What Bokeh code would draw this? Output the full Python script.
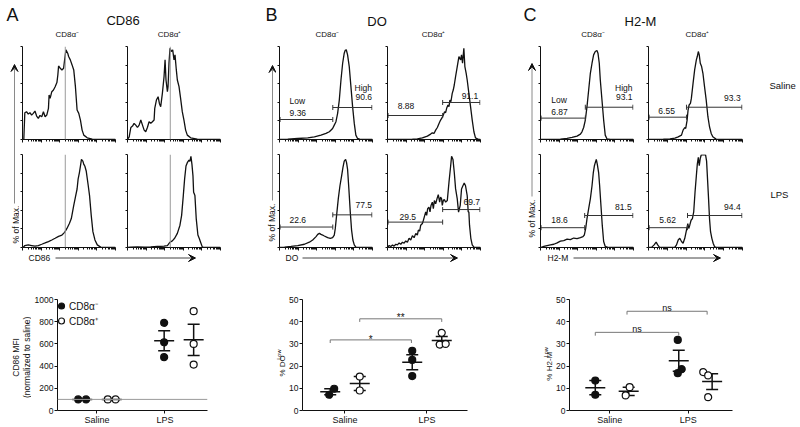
import numpy as np
from bokeh.plotting import figure
from bokeh.layouts import row, column
from bokeh.models import (Range1d, FixedTicker, Label, Arrow, VeeHead, TeeHead, Whisker,
                          ColumnDataSource, Legend, LegendItem, Span, CustomJSTickFormatter)
from bokeh.embed import file_html
from bokeh.resources import INLINE

FONT = "Liberation Sans"
INK = "#111111"

# ------------------------------------------------------------------ data
markers = ["CD86", "DO", "H2-M"]
subsets = ["CD8α⁻", "CD8α⁺"]
conditions = ["Saline", "LPS"]

# histogram traces: x = position on the log fluorescence axis (% of axis), y = % of max
cd86_saline_neg_x = [1.4, 2.5, 4.3, 6.2, 8.0, 9.8, 11.6, 13.4, 15.2, 17.0, 18.8, 20.7, 22.5, 24.3, 26.1, 27.9, 28.6, 29.7, 31.5, 33.3, 35.1, 37.0, 38.0, 38.8, 40.6, 42.4, 44.2, 45.3, 46.7, 48.6, 49.6, 51.4, 53.3, 55.1, 56.9, 58.7, 60.5, 62.3, 64.1, 65.9, 69.6, 75.0, 100]
cd86_saline_neg_y = [0, 28.8, 29.9, 27.3, 28.8, 26.3, 28.1, 30.6, 25.2, 22.7, 25.9, 24.5, 29.9, 24.5, 26.3, 33.5, 47.8, 44.2, 51.4, 53.2, 56.8, 61.2, 69.4, 79.1, 76.6, 74.8, 76.6, 85.6, 96.4, 92.8, 89.2, 85.6, 80.2, 74.8, 56.8, 31.7, 28.1, 20.9, 10.1, 4.7, 1.8, 0.4, 0]
cd86_saline_pos_x = [0, 1.8, 3.6, 5.4, 7.1, 8.9, 10.7, 12.5, 14.3, 16.1, 17.9, 19.6, 21.4, 23.2, 25.0, 26.8, 28.6, 29.3, 31.1, 32.9, 34.3, 35.7, 37.5, 39.3, 40.4, 41.4, 42.9, 43.6, 44.6, 45.7, 47.1, 48.6, 50.0, 51.1, 52.5, 53.6, 55.4, 57.1, 58.9, 60.7, 62.5, 64.3, 67.9, 75.0, 100]
cd86_saline_pos_y = [0, 2.9, 12.9, 14.4, 17.3, 15.5, 12.9, 15.5, 20.9, 15.5, 10.1, 8.3, 12.9, 19.1, 17.3, 19.1, 20.9, 33.5, 42.4, 46.0, 38.8, 35.3, 49.6, 67.6, 85.6, 64.0, 51.4, 56.8, 82.0, 98.2, 94.6, 96.4, 85.6, 91.0, 74.8, 64.0, 56.8, 44.2, 29.9, 20.9, 10.1, 4.7, 1.8, 0.4, 0]
cd86_lps_neg_x = [0.7, 2.5, 6.2, 9.8, 13.4, 17.0, 20.7, 24.3, 27.9, 31.5, 35.1, 38.8, 42.4, 45.3, 47.8, 50.4, 52.5, 55.1, 56.9, 58.7, 59.8, 61.2, 62.3, 63.4, 64.9, 65.9, 67.0, 68.5, 70.7, 72.1, 73.9, 75.7, 77.9, 80.4, 84.1, 100]
cd86_lps_neg_y = [0, 2.1, 2.8, 2.1, 1.4, 2.1, 3.5, 4.9, 6.4, 8.1, 9.9, 12.0, 13.4, 16.3, 20.5, 25.8, 31.1, 45.2, 54.1, 62.9, 73.5, 80.6, 87.6, 94.7, 92.9, 89.4, 87.6, 82.3, 66.4, 55.8, 34.6, 17.0, 8.1, 2.8, 0.4, 0]
cd86_lps_pos_x = [0, 3.6, 10.7, 17.9, 25.0, 32.1, 39.3, 42.9, 45.7, 48.2, 50.7, 53.6, 56.4, 58.2, 60.0, 61.4, 62.9, 64.3, 66.1, 67.1, 68.2, 69.3, 70.4, 71.1, 72.5, 73.9, 75.7, 77.1, 78.6, 80.4, 82.1, 100]
cd86_lps_pos_y = [0, 0.4, 0.7, 0.4, 0.7, 1.1, 1.4, 2.1, 5.7, 7.1, 9.9, 15.2, 24.0, 34.6, 55.8, 73.5, 87.6, 91.2, 94.0, 92.6, 98.0, 89.4, 77.0, 59.4, 55.8, 31.1, 13.4, 9.9, 5.7, 0.7, 0, 0]

do_saline_neg_x = [0, 8.9, 19.6, 30.4, 37.5, 44.6, 50.0, 53.6, 57.1, 58.9, 60.7, 62.5, 64.3, 66.1, 67.9, 69.6, 70.7, 71.8, 73.2, 75.0, 76.8, 78.6, 80.4, 82.1, 83.9, 87.5, 100]
do_saline_neg_y = [0, 0.4, 1.1, 1.8, 2.9, 4.7, 6.5, 8.3, 11.9, 15.5, 19.1, 28.1, 42.4, 64.0, 82.0, 92.8, 96.0, 96.5, 91.0, 78.4, 56.8, 35.3, 17.3, 4.7, 1.1, 0, 0]
do_saline_pos_x = [0, 16.1, 26.8, 32.1, 37.5, 42.9, 46.4, 48.2, 50.0, 51.8, 53.6, 55.4, 57.1, 58.9, 60.0, 61.4, 62.5, 63.6, 65.0, 66.1, 67.1, 68.2, 69.6, 70.7, 71.8, 73.2, 75.0, 76.8, 78.6, 79.6, 80.7, 82.1, 83.2, 84.6, 85.7, 87.5, 89.3, 91.1, 92.9, 94.6, 98.2, 100]
do_saline_pos_y = [0, 0, 0.4, 0.7, 1.8, 3.6, 5.8, 7.2, 6.5, 10.1, 12.9, 17.3, 20.9, 23.7, 26.3, 29.9, 28.8, 33.5, 37.1, 35.3, 42.4, 40.6, 49.6, 53.2, 58.6, 67.6, 78.4, 89.2, 85.6, 91.0, 82.0, 98.0, 78.4, 71.2, 64.0, 49.6, 35.3, 20.9, 8.3, 1.8, 0, 0]
do_lps_neg_x = [0, 5.4, 12.5, 19.6, 26.8, 32.1, 35.7, 39.3, 41.1, 42.9, 44.6, 46.4, 48.2, 51.8, 54.6, 57.1, 58.9, 60.0, 61.4, 63.2, 65.0, 66.8, 68.2, 69.6, 71.1, 72.1, 73.2, 74.6, 76.1, 77.5, 78.9, 80.4, 82.1, 87.5, 100]
do_lps_neg_y = [0, 0.4, 1.1, 2.1, 3.5, 5.7, 8.1, 11.7, 14.1, 15.2, 14.1, 13.4, 12.4, 10.6, 9.9, 10.6, 13.4, 20.5, 34.6, 52.3, 66.4, 77.0, 85.9, 92.9, 94.7, 91.2, 84.1, 62.9, 38.2, 18.7, 8.1, 2.8, 0.4, 0, 0]
do_lps_pos_x = [0, 1.8, 3.6, 5.4, 7.1, 8.9, 10.7, 12.5, 14.3, 16.1, 17.9, 19.6, 21.4, 23.2, 25.0, 26.8, 28.6, 30.4, 32.1, 33.2, 34.6, 35.7, 37.5, 38.6, 39.6, 41.1, 42.1, 43.2, 44.6, 45.7, 46.8, 48.2, 49.3, 50.4, 51.8, 53.2, 54.6, 56.1, 57.1, 58.2, 58.9, 60.0, 61.1, 62.5, 64.3, 66.1, 67.9, 68.9, 70.4, 71.8, 73.2, 75.0, 76.4, 78.2, 79.6, 81.1, 82.5, 83.9, 85.7, 86.8, 87.5, 88.2, 89.6, 91.1, 92.9, 100]
do_lps_pos_y = [0, 2.1, 1.1, 2.8, 1.4, 3.5, 2.8, 4.9, 3.5, 5.7, 4.6, 7.1, 5.7, 9.9, 8.1, 12.7, 10.6, 15.2, 13.4, 18.7, 17.7, 24.0, 25.8, 29.3, 32.9, 38.2, 34.6, 41.7, 43.5, 38.2, 45.2, 48.8, 41.7, 50.5, 47.0, 52.3, 56.9, 48.8, 54.1, 52.3, 45.2, 50.5, 51.6, 48.8, 50.5, 70.0, 87.6, 98.0, 94.7, 80.6, 63.3, 52.3, 38.0, 45.2, 62.9, 66.4, 69.3, 66.4, 55.8, 38.2, 38.2, 24.0, 9.9, 2.8, 0.4, 0]

h2m_saline_neg_x = [0, 10.7, 21.4, 28.6, 33.9, 39.3, 42.9, 44.6, 46.4, 48.2, 50.0, 51.8, 53.6, 55.4, 57.1, 58.9, 60.7, 61.8, 63.2, 64.3, 66.1, 67.9, 69.6, 71.4, 75.0, 100]
h2m_saline_neg_y = [0, 0, 0.4, 1.1, 2.2, 3.6, 5.8, 8.3, 12.9, 20.9, 35.3, 53.2, 71.2, 82.0, 91.0, 94.6, 95.7, 92.8, 82.0, 64.0, 42.4, 20.9, 4.7, 0.7, 0, 0]
h2m_saline_pos_x = [0, 15.8, 22.8, 28.1, 31.6, 35.1, 36.8, 38.6, 39.6, 41.1, 42.1, 43.2, 44.6, 45.6, 47.4, 49.1, 50.9, 51.9, 53.0, 54.0, 55.1, 56.5, 57.9, 59.6, 61.4, 63.2, 64.9, 66.7, 68.4, 71.9, 100]
h2m_saline_pos_y = [0, 0.4, 0.7, 1.4, 2.9, 4.7, 10.1, 12.9, 11.9, 20.9, 31.7, 37.1, 38.8, 44.2, 60.4, 74.8, 85.6, 89.2, 94.6, 91.0, 82.0, 78.4, 71.2, 56.8, 42.4, 24.5, 13.7, 6.5, 2.9, 0.4, 0]
h2m_lps_neg_x = [0, 3.6, 7.1, 10.7, 14.3, 17.9, 21.4, 25.0, 28.6, 32.1, 35.7, 39.3, 42.9, 45.7, 47.1, 48.6, 50.0, 51.8, 53.6, 55.4, 56.8, 57.9, 58.9, 60.0, 61.1, 62.5, 63.6, 65.0, 66.4, 67.9, 69.6, 73.2, 100]
h2m_lps_neg_y = [0, 1.1, 2.1, 2.8, 3.5, 4.9, 6.8, 7.4, 9.0, 8.5, 10.2, 9.5, 10.6, 11.7, 13.4, 20.5, 31.1, 41.7, 52.3, 66.4, 80.6, 87.6, 91.2, 94.7, 89.4, 80.6, 66.4, 45.2, 24.0, 6.4, 1.1, 0, 0]
h2m_lps_pos_x = [0, 3.5, 6.0, 8.1, 9.8, 11.6, 15.8, 22.8, 28.1, 29.8, 31.6, 33.3, 35.1, 36.8, 38.6, 40.4, 41.8, 42.8, 43.9, 45.3, 46.7, 48.1, 49.5, 50.9, 51.9, 53.0, 54.0, 55.1, 56.1, 57.5, 59.3, 60.7, 61.8, 62.8, 63.9, 64.9, 66.0, 67.4, 68.8, 70.2, 71.9, 100]
h2m_lps_pos_y = [0, 0.4, 2.8, 5.7, 2.8, 0.4, 0, 0, 0.4, 2.8, 8.1, 9.9, 6.4, 4.6, 9.9, 18.7, 25.8, 20.5, 24.0, 29.3, 31.1, 38.2, 59.4, 77.0, 89.4, 97.0, 88.0, 96.0, 99.5, 99.5, 99.5, 99.5, 92.9, 73.5, 52.3, 31.1, 17.0, 9.9, 4.6, 1.1, 0, 0]

# gate frequencies (% of cells), panels: saline neg, saline pos, LPS neg, LPS pos
do_low_pct = [9.36, 8.88, 22.6, 29.5]
do_high_pct = [90.6, 91.1, 77.5, 69.7]
h2m_low_pct = [6.87, 6.55, 18.6, 5.62]
h2m_high_pct = [93.1, 93.3, 81.5, 94.4]

# summary scatter values
cd86_mfi_saline_neg = [100, 100]
cd86_mfi_saline_pos = [100, 100]
cd86_mfi_lps_neg = [790, 615, 480]
cd86_mfi_lps_pos = [895, 600, 414]
do_low_saline_neg = [9.8, 7.1]
do_low_saline_pos = [15.3, 9.0]
do_low_lps_neg = [26.9, 22.8, 15.5]
do_low_lps_pos = [35.0, 29.7, 30.0]
h2m_low_saline_neg = [13.5, 7.1]
h2m_low_saline_pos = [10.5, 6.8]
h2m_low_lps_neg = [31.8, 18.6, 16.8]
h2m_low_lps_pos = [17.3, 15.8, 6.0]

# ------------------------------------------------------------------ layout helpers
def plain(p):
    p.xgrid.visible = False
    p.ygrid.visible = False
    p.outline_line_color = None
    p.background_fill_color = "white"
    p.border_fill_color = "white"


def lab(p, x, y, text, size="8.5px", align="left", baseline="middle", angle=0.0, color=INK):
    p.add_layout(Label(x=x, y=y, text=text, text_font=FONT, text_font_size=size,
                       text_align=align, text_baseline=baseline, angle=angle, text_color=color))


def text_fig(x0, x1, y0, y1):
    p = figure(width=x1 - x0, height=y1 - y0, x_range=Range1d(x0, x1), y_range=Range1d(y1, y0),
               x_axis_location=None, y_axis_location=None, min_border=0,
               output_backend="svg", toolbar_location=None)
    plain(p)
    return p


decade_ticks = [0, 20, 40, 60, 80, 100]
minor_ticks = [d * 20 + 20 * np.log10(k) for d in range(5) for k in range(2, 10)]


def hist_fig(xs, ys, w, bl, br, top):
    bt, bb = (5, 7) if top else (8, 4)
    p = figure(width=w, height=105, x_range=Range1d(0, 100), y_range=Range1d(0, 100),
               min_border_left=bl, min_border_right=br, min_border_top=bt, min_border_bottom=bb,
               output_backend="svg", toolbar_location=None)
    plain(p)
    xa, ya = p.xaxis[0], p.yaxis[0]
    xa.ticker = FixedTicker(ticks=decade_ticks, minor_ticks=minor_ticks)
    ya.ticker = FixedTicker(ticks=[0, 20, 40, 60, 80, 100], minor_ticks=[])
    for ax in (xa, ya):
        ax.major_label_text_font_size = "1px"
        ax.major_label_text_color = None
        ax.major_label_standoff = 0
        ax.axis_line_color = INK
        ax.major_tick_line_color = INK
        ax.minor_tick_line_color = INK
        ax.major_tick_in = 0
        ax.minor_tick_in = 0
    xa.major_tick_out = 3
    xa.minor_tick_out = 2
    ya.major_tick_out = 2
    ya.minor_tick_line_color = None
    p.line(xs, ys, line_color=INK, line_width=1.3)
    return p


def add_gates(p, split, ylow, yhigh, low_txt, high_txt, low_pos, high_pos, words=False, word_pos=None):
    cap = 2.7
    gc = "#333333"
    p.segment(x0=[0.6, split], y0=[ylow, yhigh], x1=[split, 99.4], y1=[ylow, yhigh],
              line_color=gc, line_width=1)
    cx = [0.6, split, split, 99.4]
    cy = [ylow, ylow, yhigh, yhigh]
    p.segment(x0=cx, y0=[c - cap for c in cy], x1=cx, y1=[c + cap for c in cy],
              line_color=gc, line_width=1)
    lab(p, low_pos[0], low_pos[1], low_txt)
    lab(p, high_pos[0], high_pos[1], high_txt, align="right")
    if words:
        lab(p, word_pos[0][0], word_pos[0][1], "Low")
        lab(p, word_pos[1][0], word_pos[1][1], "High", align="right")


# ------------------------------------------------------------------ histograms
hist_cols = {
    # marker: [(fig width, border left, border right) for CD8a- column, CD8a+ column]
    "CD86": [(98, 3, 2), (109, 10, 6)],
    "DO": [(102, 3, 6), (108, 9, 6)],
    "H2-M": [(103, 3, 7), (110, 8, 8)],
}
traces = {
    "CD86": [(cd86_saline_neg_x, cd86_saline_neg_y), (cd86_saline_pos_x, cd86_saline_pos_y),
             (cd86_lps_neg_x, cd86_lps_neg_y), (cd86_lps_pos_x, cd86_lps_pos_y)],
    "DO": [(do_saline_neg_x, do_saline_neg_y), (do_saline_pos_x, do_saline_pos_y),
           (do_lps_neg_x, do_lps_neg_y), (do_lps_pos_x, do_lps_pos_y)],
    "H2-M": [(h2m_saline_neg_x, h2m_saline_neg_y), (h2m_saline_pos_x, h2m_saline_pos_y),
             (h2m_lps_neg_x, h2m_lps_neg_y), (h2m_lps_pos_x, h2m_lps_pos_y)],
}
gate_layout = {
    "DO": dict(split=[57.3, 59.3, 57.3, 59.3], ylow=[21.5, 25.8, 22.0, 27.3], yhigh=[34.4, 39.8, 35.1, 40.8],
               lowlab=[(10.8, 28.5), (11.0, 35.5), (10.7, 29.8), (12.9, 32.4)],
               highlab=[(99.5, 45.7), (97.5, 47.3), (99.5, 45.2), (99.5, 48.4)],
               words=[(10.8, 41.9), (99.5, 55.4)]),
    "H2-M": dict(split=[48.2, 40.4, 47.5, 41.5], ylow=[23.0, 24.0, 21.3, 21.3], yhigh=[34.7, 34.7, 34.4, 34.4],
                 lowlab=[(11.5, 30.1), (10.5, 31.0), (11.5, 29.5), (11.5, 29.8)],
                 highlab=[(99.0, 45.5), (98.0, 45.0), (98.0, 43.3), (98.0, 43.3)],
                 words=[(11.5, 42.3), (99.0, 55.4)]),
}
gate_values = {"DO": (do_low_pct, do_high_pct), "H2-M": (h2m_low_pct, h2m_high_pct)}

hist_columns = {}
for m in markers:
    cols = []
    for c in range(2):
        w, bl, br = hist_cols[m][c]
        figs = []
        for r in range(2):
            i = r * 2 + c
            xs, ys = traces[m][i]
            p = hist_fig(xs, ys, w, bl, br, top=(r == 0))
            if m == "CD86":
                p.add_layout(Span(location=46, dimension="height", line_color="#9a9a9a", line_width=1))
            else:
                g = gate_layout[m]
                lo, hi = gate_values[m]
                add_gates(p, g["split"][i], g["ylow"][i], g["yhigh"][i], str(lo[i]), str(hi[i]),
                          g["lowlab"][i], g["highlab"][i], words=(i == 0), word_pos=g["words"])
            figs.append(p)
        cols.append(column(*figs, spacing=0))
    hist_columns[m] = cols


# side strips with "% of Max." arrows
def side_fig(x0, x1, ax, y_tail, y_tip, tx, ty):
    p = text_fig(x0, x1, 41, 251)
    p.add_layout(Arrow(end=VeeHead(size=7, fill_color=INK, line_color=INK, line_width=1),
                       x_start=ax, y_start=y_tail, x_end=ax, y_end=y_tip,
                       line_color="#8a8a8a", line_width=1))
    lab(p, tx, ty, "% of Max.", size="8.5px", align="center", angle=np.pi / 2)
    return p


sideA = side_fig(0, 19, 14, 203, 64, 15, 224)
sideB = side_fig(226, 276, 272, 200, 65, 271, 222)
sideC = side_fig(486, 537, 531.5, 196, 63, 531.5, 218)

right = text_fig(750, 800, 41, 251)
lab(right, 769, 85, conditions[0], size="9.5px")
lab(right, 770, 193.5, conditions[1], size="9.5px")

hist_row = row(sideA, *hist_columns["CD86"], sideB, *hist_columns["DO"], sideC, *hist_columns["H2-M"],
               right, spacing=0)

# header strip
header = text_fig(0, 800, 0, 41)
for letter, lx, title, tx, ty, s1, s2 in [("A", 6, markers[0], 122.5, 19.5, 66.7, 169),
                                          ("B", 265, markers[1], 376.5, 21, 326.7, 433),
                                          ("C", 523, markers[2], 640, 20.5, 592.5, 696.7)]:
    lab(header, lx, 14.5, letter, size="18px")
    lab(header, tx, ty, title, size="13px", align="center")
    lab(header, s1, 33.5, subsets[0], size="8px", align="center")
    lab(header, s2, 33.5, subsets[1], size="8px", align="center")

# x-axis label strip under the histograms
xstrip = text_fig(0, 800, 251, 264)
for name, tx, a0, a1 in [(markers[0], 28, 55, 195), (markers[1], 285, 302, 457), (markers[2], 547, 573, 720)]:
    lab(xstrip, tx, 257, name, size="8.5px")
    xstrip.add_layout(Arrow(end=VeeHead(size=7, fill_color=INK, line_color=INK, line_width=1),
                            x_start=a0, y_start=257.5, x_end=a1, y_end=257.5,
                            line_color="#444444", line_width=1))


# ------------------------------------------------------------------ summary scatter plots
def scatter_fig(cfg, vals, jit, yticks):
    p = figure(width=cfg["w"], height=163, x_range=Range1d(*cfg["xr"]), y_range=Range1d(0, cfg["ymax"]),
               min_border_left=cfg["bl"], min_border_right=cfg["br"], min_border_top=35, min_border_bottom=17,
               output_backend="svg", toolbar_location=None)
    plain(p)
    xa, ya = p.xaxis[0], p.yaxis[0]
    ya.ticker = FixedTicker(ticks=yticks, minor_ticks=[])
    xa.ticker = FixedTicker(ticks=cfg["label_ticks"], minor_ticks=[])
    xa.formatter = CustomJSTickFormatter(args=dict(labels=conditions), code="return labels[index]")
    for ax in (xa, ya):
        ax.axis_line_color = INK
        ax.major_tick_line_color = INK
        ax.minor_tick_line_color = None
        ax.major_tick_in = 0
        ax.major_tick_out = 3
        ax.major_label_text_font = FONT
        ax.major_label_text_font_size = "8.5px"
        ax.major_label_text_color = INK
    ya.major_label_standoff = 1
    xa.major_label_standoff = 1
    xa.major_label_text_font_size = "9px"

    unit = cfg["fw"] / (cfg["xr"][1] - cfg["xr"][0])
    mx, my, lo, hi = [], [], [], []
    groups = []
    for j, sub in enumerate(["neg", "pos"]):
        xs, ys = [], []
        for k, cond in enumerate(["saline", "lps"]):
            v = vals[(cond, sub)]
            base = k + 1 + (-1 if j == 0 else 1) * cfg["dodge"]
            xs += [base + d / unit for d in jit[(cond, sub)]]
            ys += v
            mean = float(np.mean(v))
            sem = float(np.std(v, ddof=1) / np.sqrt(len(v)))
            mx.append(base); my.append(mean); lo.append(mean - sem); hi.append(mean + sem)
        groups.append((xs, ys, j))
    src = ColumnDataSource(dict(base=mx, lower=lo, upper=hi))
    p.add_layout(Whisker(source=src, base="base", lower="lower", upper="upper", dimension="height",
                         line_color=INK, line_width=1.5,
                         upper_head=TeeHead(size=12, line_color=INK, line_width=1.5),
                         lower_head=TeeHead(size=12, line_color=INK, line_width=1.5)))
    out = []
    for xs, ys, j in groups:
        r = p.scatter(xs, ys, marker="circle", size=7, fill_color=INK if j == 0 else "white",
                      line_color=INK, line_width=1.2)
        out.append(r)
    p.scatter(mx, my, marker="dash", size=20, line_color=INK, line_width=1.5)
    return p, out


def brackets(p, items, leg, text_size, dy):
    xs, ys = [], []
    for x0, x1, y, t in items:
        xs.append([x0, x0, x1, x1])
        ys.append([y - leg, y, y, y - leg])
    p.multi_line(xs, ys, line_color="#777777", line_width=1)
    for x0, x1, y, t in items:
        lab(p, (x0 + x1) / 2, y + dy, t, size=text_size, align="center", baseline="alphabetic")


# panel A
cfgA = dict(w=237, bl=24, br=61, fw=152, xr=(0.518, 2.349), dodge=0.18, label_ticks=[1.0, 1.83], ymax=1000)
valsA = {("saline", "neg"): cd86_mfi_saline_neg, ("saline", "pos"): cd86_mfi_saline_pos,
         ("lps", "neg"): cd86_mfi_lps_neg, ("lps", "pos"): cd86_mfi_lps_pos}
jitA = {("saline", "neg"): [-4, 4], ("saline", "pos"): [-4, 4], ("lps", "neg"): [0, 0, 0], ("lps", "pos"): [0, 0, 0]}
scA, rA = scatter_fig(cfgA, valsA, jitA, [0, 200, 400, 600, 800, 1000])
scA.add_layout(Span(location=100, dimension="width", line_color="#9a9a9a", line_width=1))
legend = Legend(items=[LegendItem(label=subsets[0], renderers=[rA[0]]),
                       LegendItem(label=subsets[1], renderers=[rA[1]])],
                location=(-4, 82), orientation="vertical", glyph_width=16, glyph_height=15,
                label_height=13, spacing=-2, padding=0, margin=0, label_standoff=0,
                border_line_color=None, background_fill_alpha=0,
                label_text_font=FONT, label_text_font_size="10px", label_text_color=INK)
scA.add_layout(legend)
stripA = text_fig(0, 31, 264, 427)
lab(stripA, 15.8, 349, "CD86 MFI", size="8.5px", align="center", angle=np.pi / 2)
lab(stripA, 26.0, 349, "(normalized to saline)", size="8.5px", align="center", angle=np.pi / 2)

# panel B
cfgB = dict(w=250, bl=14, br=69, fw=167, xr=(0.482, 2.494), dodge=0.18, label_ticks=[1.0, 2.0], ymax=50)
valsB = {("saline", "neg"): do_low_saline_neg, ("saline", "pos"): do_low_saline_pos,
         ("lps", "neg"): do_low_lps_neg, ("lps", "pos"): do_low_lps_pos}
jitB = {("saline", "neg"): [4, -1], ("saline", "pos"): [0, 0], ("lps", "neg"): [0, 0, 0], ("lps", "pos"): [0, -2, 4]}
scB, rB = scatter_fig(cfgB, valsB, jitB, [0, 10, 20, 30, 40, 50])
brackets(scB, [(0.82, 1.81, 31.8, "*"), (1.18, 2.18, 41.3, "**")], 1.4, "10px", 0.4)
stripB = text_fig(268, 286, 264, 427)
lab(stripB, 281.5, 361.5, "% DO", size="8px", align="center", angle=np.pi / 2)
lab(stripB, 278.5, 345.0, "Low", size="5.5px", align="center", angle=np.pi / 2)

# panel C
cfgC = dict(w=247, bl=14, br=68, fw=165, xr=(0.491, 2.444), dodge=0.2, label_ticks=[0.973, 1.914], ymax=50)
valsC = {("saline", "neg"): h2m_low_saline_neg, ("saline", "pos"): h2m_low_saline_pos,
         ("lps", "neg"): h2m_low_lps_neg, ("lps", "pos"): h2m_low_lps_pos}
jitC = {("saline", "neg"): [0, 0], ("saline", "pos"): [1, -3], ("lps", "neg"): [-1, 3, -1], ("lps", "pos"): [-9, -4, -4]}
scC, rC = scatter_fig(cfgC, valsC, jitC, [0, 10, 20, 30, 40, 50])
brackets(scC, [(0.8, 1.8, 35.2, "ns"), (1.18, 2.14, 44.7, "ns")], 1.5, "9px", 1.3)
stripC = text_fig(536, 553, 264, 427)
lab(stripC, 548.5, 362.0, "% H2-M", size="8px", align="center", angle=np.pi / 2)
lab(stripC, 545.5, 341.5, "Low", size="5.5px", align="center", angle=np.pi / 2)

scatter_row = row(stripA, scA, stripB, scB, stripC, scC, spacing=0)

layout = column(header, hist_row, xstrip, scatter_row, spacing=0)

open("out.html", "w").write(file_html(layout, INLINE))
